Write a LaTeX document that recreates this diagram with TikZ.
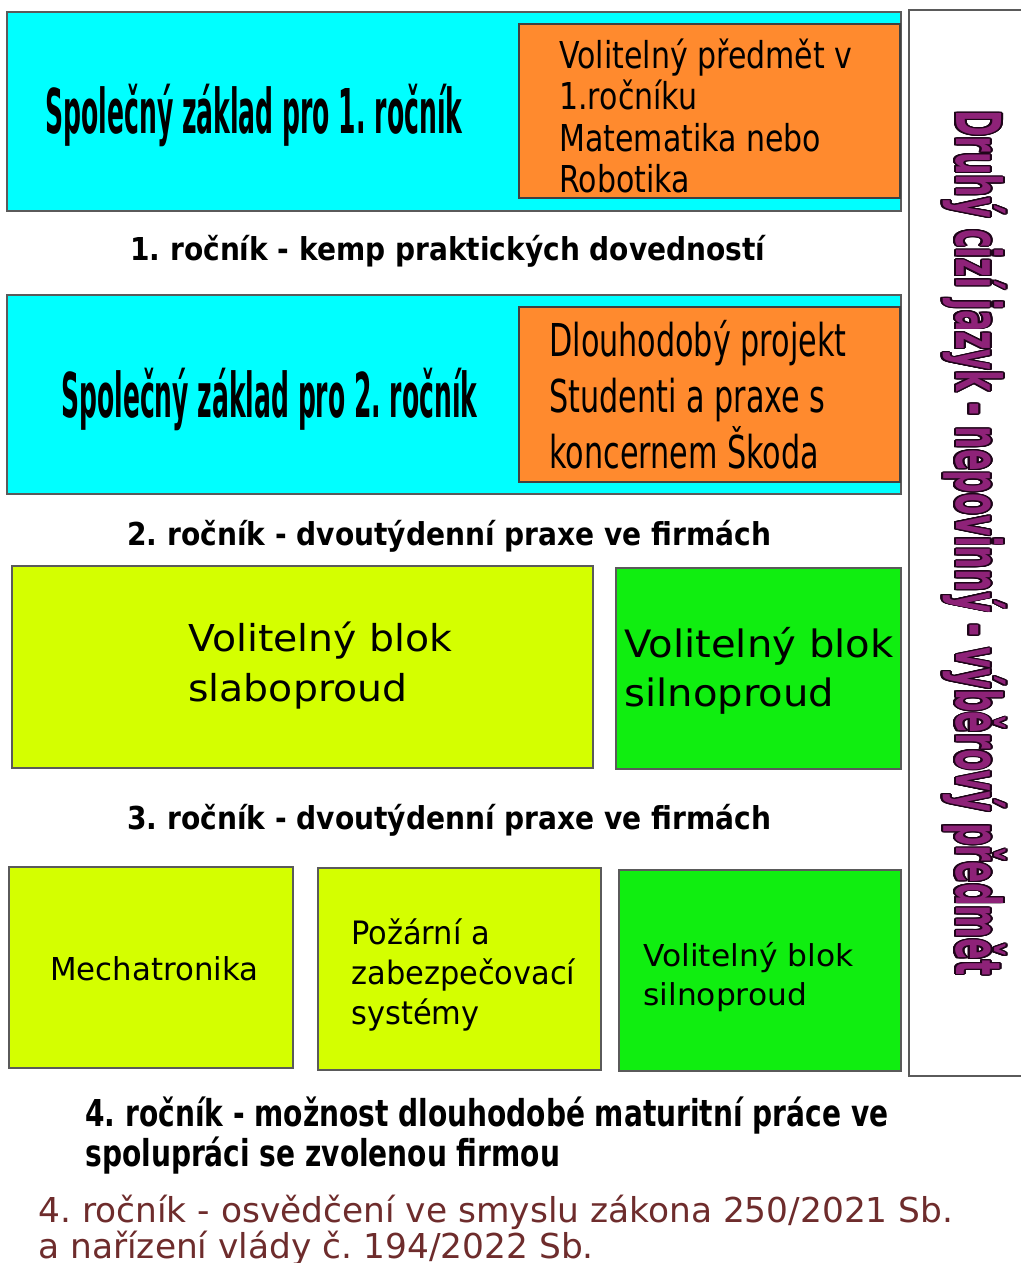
\documentclass[tikz,border=0pt]{standalone}
\usepackage{fontspec}
\setmainfont{DejaVu Sans}
\usepackage{graphicx}
\usepackage{contour}
\contournumber{24}
\contourlength{0.6pt}
\usetikzlibrary{fit}
\frenchspacing
\newlength\pxu \setlength\pxu{0.02cm}
\definecolor{cyanbox}{HTML}{00FFFF}
\definecolor{orangebox}{HTML}{FF8A2E}
\definecolor{limebox}{HTML}{D4FF00}
\definecolor{greenbox}{HTML}{10EE10}
\definecolor{maroontext}{HTML}{6E2C2C}
\definecolor{sidefill}{HTML}{8E2278}
\definecolor{sideedge}{HTML}{1E0519}
\definecolor{edgegray}{HTML}{5A5A5A}
% #1 options, #2 name, #3 x left, #4 first baseline, #5 width, #6 cap height, #7 line pitch, #8 lines, #9 content
\newcommand\txtblk[9]{%
\pgfmathsetmacro\bsk{14.58*#7/#6}%
\pgfmathsetmacro\hh{#7*#8}%
\node[inner sep=0, anchor=north west, #1] (#2) at (#3, {#4-0.7*#7}) {\resizebox*{#5\pxu}{\hh\pxu}{\fontsize{20}{\bsk}\selectfont\frenchspacing\begin{tabular}{@{}l@{}}#9\end{tabular}}};}
\tikzset{bx/.style={draw=edgegray, line width=0.9pt, inner sep=0pt}}
\begin{document}
\begin{tikzpicture}[x=0.02cm, y=-0.02cm]
\useasboundingbox (0,0) rectangle (1020,1263);
\fill[white] (0,0) rectangle (1020,1263);
% boxes
\node[bx, fill=cyanbox, fit={(7,12) (901,211)}] (c1) {};
\node[bx, fill=orangebox, draw=black!75, fit={(519,24) (900,198)}] (o1b) {};
\node[bx, fill=cyanbox, fit={(7,295) (901,494)}] (c2) {};
\node[bx, fill=orangebox, draw=black!75, fit={(519,307) (900,482)}] (o2b) {};
\node[bx, fill=limebox, fit={(12,566) (593,768)}] (y1b) {};
\node[bx, fill=greenbox, fit={(616,568) (901,769)}] (g1b) {};
\node[bx, fill=limebox, fit={(9,867) (293,1068)}] (y2b) {};
\node[bx, fill=limebox, fit={(318,868) (601,1070)}] (y3b) {};
\node[bx, fill=greenbox, fit={(619,870) (901,1071)}] (g2b) {};
\draw[edgegray, line width=1.2pt] (1025,10) -- (909,10) -- (909,1076) -- (1025,1076);
% texts
\txtblk{font=\bfseries}{t1}{45}{133}{417}{45}{72}{1}{\smash{Společný základ pro 1. ročník}}
\txtblk{}{o1}{559}{68}{293}{27}{41.5}{4}{\smash{Volitelný předmět v}\\\smash{1.ročníku}\\\smash{Matematika nebo}\\\smash{Robotika}}
\txtblk{font=\bfseries}{l1}{130}{260}{635}{23}{40}{1}{\smash{1. ročník - kemp praktických dovedností}}
\txtblk{font=\bfseries}{t2}{61}{417}{416}{45}{72}{1}{\smash{Společný základ pro 2. ročník}}
\txtblk{}{o2}{549}{356}{297}{33}{56}{3}{\smash{Dlouhodobý projekt}\\\smash{Studenti a praxe s}\\\smash{koncernem Škoda}}
\txtblk{font=\bfseries}{l2}{127}{545}{644}{23}{40}{1}{\smash{2. ročník - dvoutýdenní praxe ve firmách}}
\txtblk{}{y1}{188}{651}{264}{27}{50}{2}{\smash{Volitelný blok}\\\smash{slaboproud}}
\txtblk{}{g1}{624}{657}{269}{27.5}{49}{2}{\smash{Volitelný blok}\\\smash{silnoproud}}
\txtblk{font=\bfseries}{l3}{127}{829}{644}{23}{40}{1}{\smash{3. ročník - dvoutýdenní praxe ve firmách}}
\txtblk{}{m1}{50}{980}{208}{23}{40}{1}{\smash{Mechatronika}}
\txtblk{}{p1}{351}{944}{224}{23.5}{40}{3}{\smash{Požární a}\\\smash{zabezpečovací}\\\smash{systémy}}
\txtblk{}{g2}{643}{966}{210}{22}{39}{2}{\smash{Volitelný blok}\\\smash{silnoproud}}
\txtblk{font=\bfseries}{l4}{85}{1126}{803}{27}{40}{2}{\smash{4. ročník - možnost dlouhodobé maturitní práce ve}\\\smash{spolupráci se zvolenou firmou}}
\txtblk{text=maroontext}{n1}{38}{1222}{915}{25}{36}{2}{\smash{4. ročník - osvědčení ve smyslu zákona 250/2021 Sb.}\\\smash{a nařízení vlády č. 194/2022 Sb.}}
% vertical text
\node[inner sep=0, rotate=-90, anchor=north west, font=\bfseries] (side) at (1007,110) {\resizebox*{865\pxu}{72\pxu}{\fontsize{20}{23.3}\selectfont\frenchspacing\begin{tabular}{@{}l@{}}\smash{\contour{sideedge}{\textcolor{sidefill}{Druhý cizí jazyk - nepovinný - výběrový předmět}}}\end{tabular}}};
\end{tikzpicture}
\end{document}
